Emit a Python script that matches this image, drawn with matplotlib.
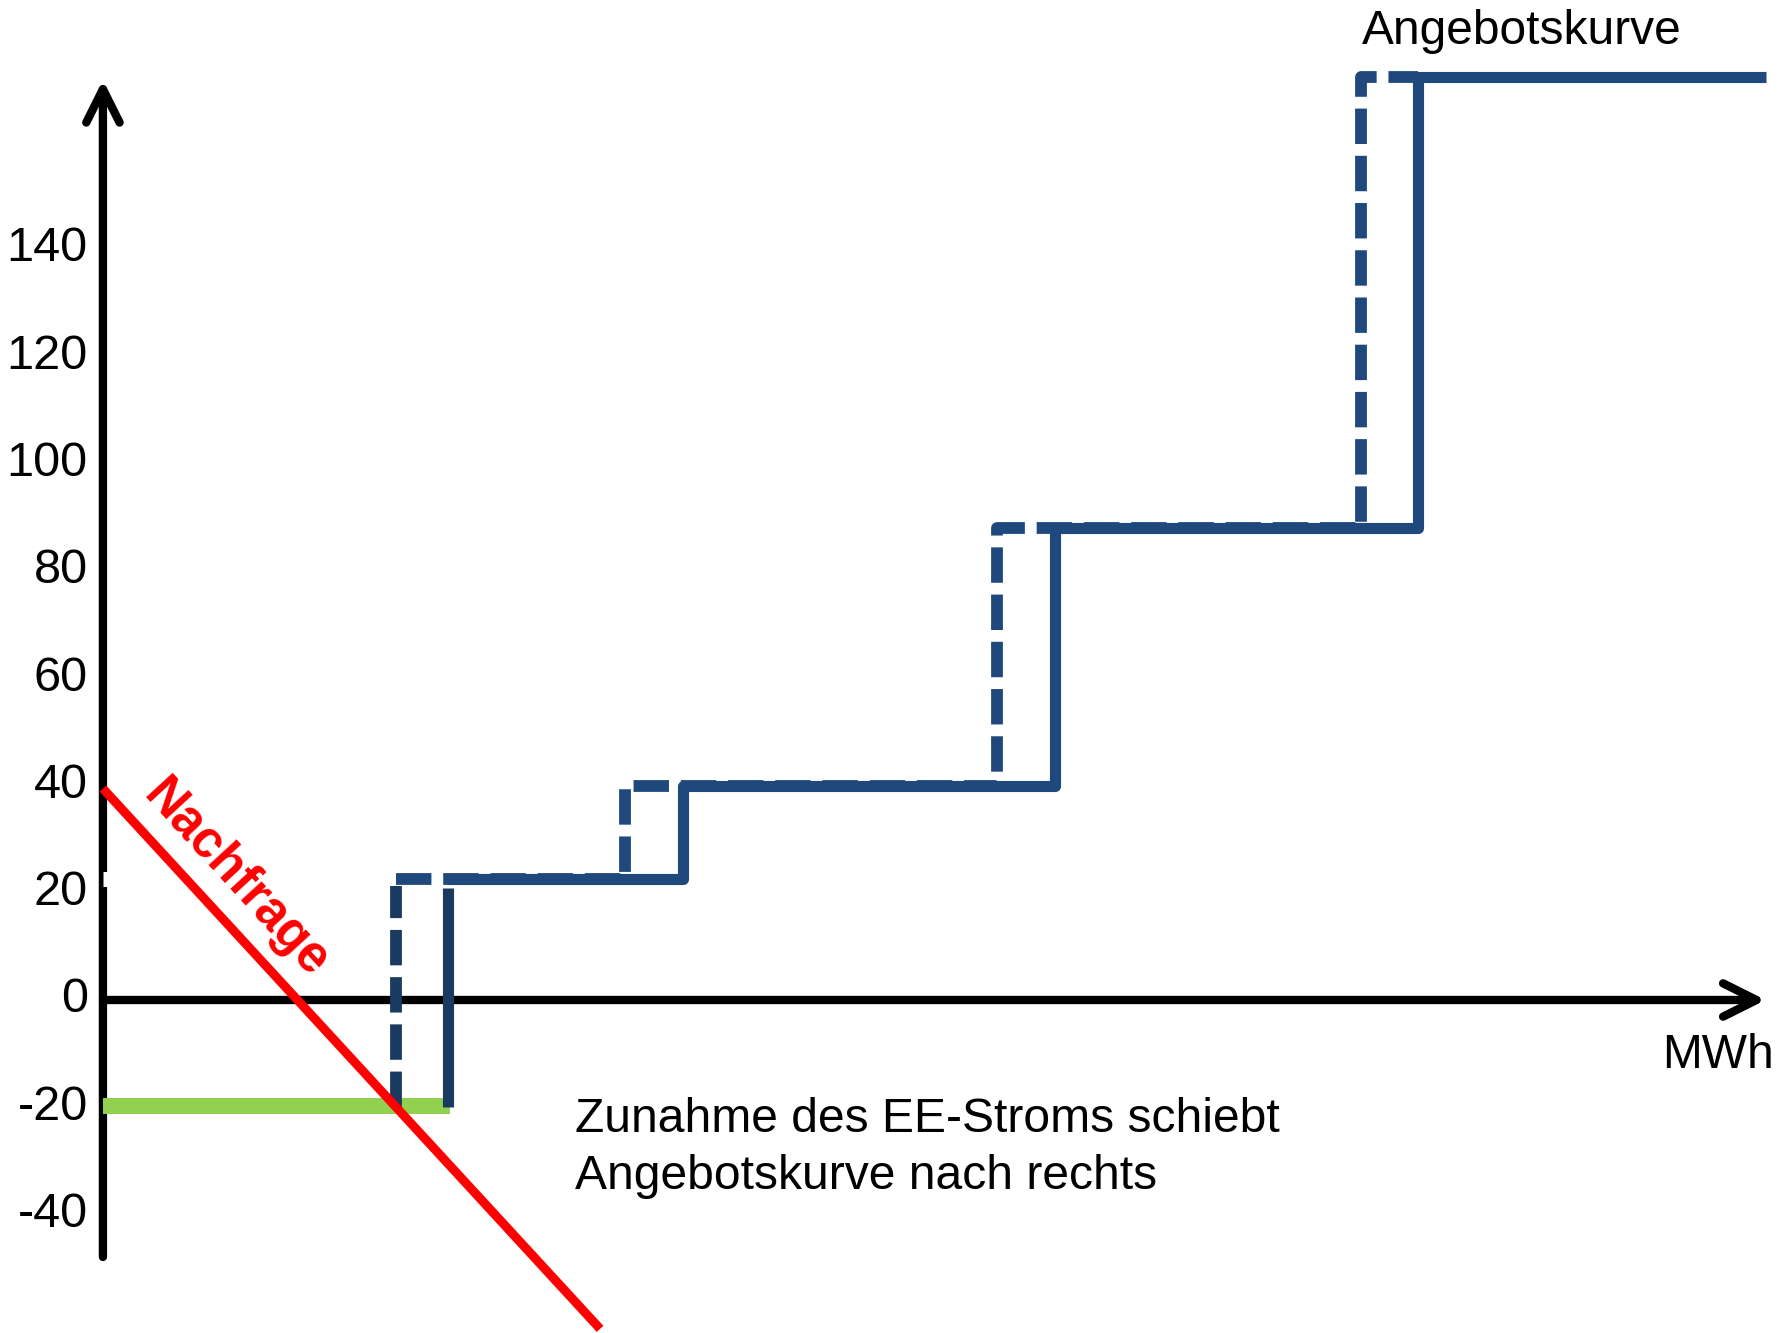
import matplotlib
matplotlib.use("Agg")
import matplotlib.pyplot as plt

plt.rcParams['font.family'] = ['Liberation Sans', 'DejaVu Sans']

# stepped supply curve (Angebotskurve), before and after the shift
steps_old_x = [17.63, 31.4, 53.77, 75.63, 79.1]
steps_new_x = [20.75, 34.86, 57.24, 79.1, 100.0]
steps_y = [22.46, 39.8, 88.0, 172.0]
floor_y = -20.0

# demand line (Nachfrage)
demand_x = [0.0, 29.9]
demand_y = [39.4, -61.3]

# price level with more renewables
green_x = [0.0, 20.87]
green_y = [-19.8, -19.8]

yticks = [140, 120, 100, 80, 60, 40, 20, 0, -20, -40]

blue = '#1F497D'
navy = '#1B3A5F'

fig = plt.figure(figsize=(17.92, 13.33), dpi=100)
ax = fig.add_axes([0, 0, 1, 1])
ax.set_xlim(-6.19, 101.58)
ax.set_ylim(-62.07, 186.39)

for s in ax.spines.values():
    s.set_visible(False)
ax.spines['left'].set_position(('data', 0))
ax.set_xticks([])
ax.set_yticks(yticks)
ax.set_yticklabels([str(t) for t in yticks])
ax.tick_params(axis='y', length=0, pad=11, labelsize=35)
plt.setp(ax.get_yticklabels(), va='center')


def step_path(xs, ys):
    px, py = [xs[0]], [ys[0]]
    for i in range(1, len(xs)):
        px.append(xs[i])
        py.append(ys[i - 1])
        if i < len(ys):
            px.append(xs[i])
            py.append(ys[i])
    return px, py


# axes with arrows
ax.annotate('', xy=(0, 171.5), xytext=(0, -47.9),
            arrowprops=dict(arrowstyle='->,head_length=0.6,head_width=0.3',
                            lw=6, color='black', mutation_scale=40,
                            shrinkA=0, shrinkB=0, capstyle='round'), zorder=2)
ax.annotate('', xy=(100, 0), xytext=(0, 0),
            arrowprops=dict(arrowstyle='->,head_length=0.6,head_width=0.3',
                            lw=6, color='black', mutation_scale=40,
                            shrinkA=0, shrinkB=0, capstyle='round'), zorder=2)
ax.plot([0.0, 2.0], [22.5, 22.5], color='white', lw=10.8,
        solid_capstyle='butt', zorder=3)

ax.plot(green_x, green_y, color='#92D050', lw=11.5, solid_capstyle='butt', zorder=3)

# old curve (dashed) and first verticals
ox, oy = step_path(steps_old_x, steps_y)
ax.plot(ox, oy, color=blue, lw=8.5, linestyle=(0, (3, 1)),
        dash_capstyle='butt', zorder=4)
ax.plot([steps_old_x[0], steps_old_x[0]], [floor_y, steps_y[0] - 1.2], color=navy,
        lw=8.5, linestyle=(0, (3, 1)), dash_capstyle='butt', zorder=5)

# new curve (solid)
nx, ny = step_path(steps_new_x, steps_y)
ax.plot(nx, ny, color=blue, lw=8, solid_capstyle='butt',
        solid_joinstyle='round', zorder=5)
ax.plot([steps_new_x[0], steps_new_x[0]], [floor_y, steps_y[0] - 1.6], color=navy,
        lw=8, solid_capstyle='butt', zorder=6)

ax.plot(demand_x, demand_y, color='#FF0000', lw=6.5, solid_capstyle='butt', zorder=7)

ax.text(8.0, 22.6, 'Nachfrage', color='#FF0000', fontsize=36.5, fontweight='bold',
        rotation=-47.4, rotation_mode='anchor', ha='center', va='center', zorder=8)
ax.text(75.7, 180.5, 'Angebotskurve', fontsize=34.5, ha='left', va='center')
ax.text(100.5, -10.4, 'MWh', fontsize=34.5, ha='right', va='center')
ax.text(28.4, -27.6, 'Zunahme des EE-Stroms schiebt\nAngebotskurve nach rechts',
        fontsize=34.6, ha='left', va='center', linespacing=1.32)

fig.savefig('out.png', dpi=100)
